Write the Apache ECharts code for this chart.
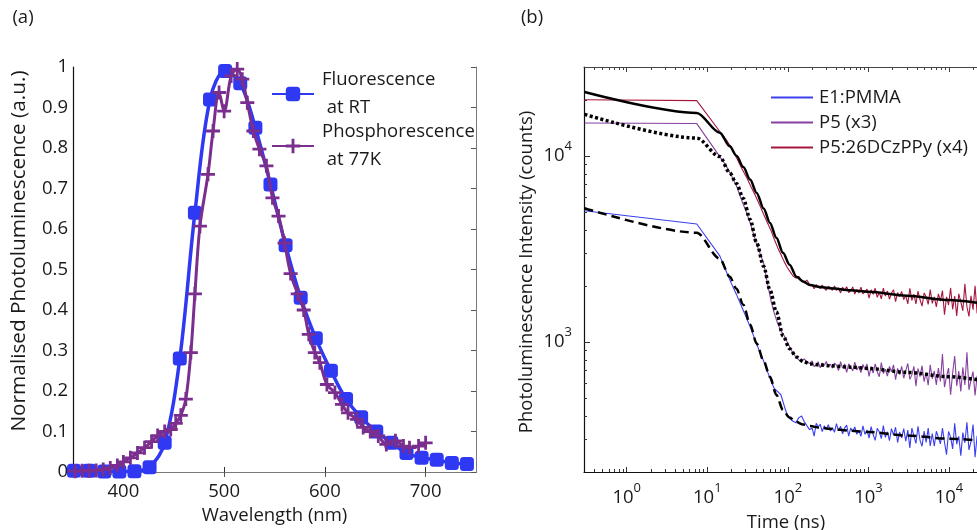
<!DOCTYPE html>
<html>
<head>
<meta charset="utf-8">
<script src="https://cdn.jsdelivr.net/npm/echarts@6/dist/echarts.min.js"></script>
<style>
  html, body { margin: 0; padding: 0; background: #ffffff; }
  #chart { width: 977px; height: 530px; }
</style>
</head>
<body>
<div id="chart"></div>
<script>
// ---- Panel (a): steady-state spectra ----
const flWavelength = [351, 366, 381, 396, 411, 426, 441, 456, 471, 486, 501, 516, 531, 546, 561, 576, 591, 606, 621, 636, 651, 666, 681, 696, 711, 726, 741];
const flIntensity = [0.003, 0.003, 0.001, 0.001, 0.002, 0.012, 0.072, 0.28, 0.64, 0.92, 0.99, 0.96, 0.85, 0.71, 0.56, 0.43, 0.33, 0.25, 0.18, 0.135, 0.10, 0.072, 0.047, 0.035, 0.03, 0.022, 0.02];

const phWavelength = [352, 359, 366, 373, 380, 387, 394, 400, 407, 414, 421, 428, 434, 441, 447, 452, 457, 462, 467, 471, 476, 484, 489, 495, 500, 507, 513, 518, 523, 529, 535, 542, 548, 554, 560, 566, 573, 579, 584, 590, 595, 602, 610, 617, 623, 632, 638, 645, 653, 661, 670, 678, 684, 693, 700];
const phIntensity = [0.002, 0.003, 0.003, 0.004, 0.006, 0.010, 0.016, 0.025, 0.035, 0.047, 0.06, 0.075, 0.09, 0.10, 0.105, 0.12, 0.14, 0.18, 0.295, 0.44, 0.607, 0.735, 0.842, 0.937, 0.891, 0.978, 0.995, 0.97, 0.912, 0.842, 0.797, 0.756, 0.677, 0.632, 0.565, 0.49, 0.44, 0.40, 0.34, 0.295, 0.27, 0.216, 0.196, 0.167, 0.146, 0.13, 0.11, 0.10, 0.089, 0.068, 0.077, 0.064, 0.06, 0.064, 0.072];

const wavelengthTicks = [400, 500, 600, 700];

// ---- Panel (b): time-resolved decays ----
const timeNs = [0.3, 7.4, 14.3, 17, 20, 23, 27, 31, 35, 40, 45, 50, 56, 62, 68, 75, 82, 90, 98, 107, 116, 126, 137, 148, 160, 172, 186,
  200, 212, 225, 238, 252, 267, 283, 300, 318, 337, 357, 379, 401, 425, 451, 478, 506, 537, 569, 603,
  639, 677, 718, 761, 807, 855, 906, 961, 1018, 1080, 1144, 1213, 1286, 1363, 1445, 1531, 1623, 1720, 1824, 1933,
  2049, 2172, 2302, 2440, 2587, 2742, 2906, 3081, 3265, 3461, 3669, 3889, 4122, 4370, 4632, 4910, 5204, 5517, 5848, 6198,
  6570, 6965, 7382, 7825, 8295, 8792, 9320, 9879, 10470, 11100, 11770, 12470, 13220, 14010, 14850, 15740, 16690, 17690, 18750, 19880,
  21070, 22330];

const pmmaCounts = [5070, 4300, 2900, 2420, 2050, 1800, 1530, 1330, 1170, 1000, 880, 790, 690, 615, 560, 540, 520, 455, 405, 385, 375, 368, 392, 400, 372, 355, 338,
  344, 312, 365, 349, 361, 330, 354, 340, 359, 332, 346, 327, 364, 333, 352, 321, 344, 357, 312, 345,
  330, 349, 319, 334, 311, 354, 319, 336, 304, 351, 318, 296, 343, 329, 302, 355, 307, 329, 295, 342,
  316, 348, 288, 328, 305, 342, 293, 336, 269, 344, 312, 285, 352, 296, 275, 332, 288, 344, 276, 322,
  275, 331, 307, 283, 344, 289, 248, 330, 308, 266, 365, 282, 311, 245, 326, 287, 370, 263, 291, 360,
  240, 313];

const p5Counts = [15000, 14900, 9900, 8900, 7800, 6900, 5700, 4900, 4200, 3450, 3000, 2650, 2050, 1650, 1420, 1250, 1150, 1080, 1000, 930, 870, 830, 800, 785, 810, 780, 765,
  790, 738, 753, 782, 725, 769, 747, 785, 736, 759, 723, 770, 751, 701, 784, 723, 762, 685, 762, 735,
  698, 779, 707, 740, 685, 757, 711, 761, 653, 737, 679, 762, 692, 650, 774, 676, 713, 655, 738, 691,
  752, 627, 720, 668, 739, 638, 701, 766, 629, 665, 738, 579, 720, 651, 745, 611, 683, 585, 753, 634,
  698, 587, 723, 614, 860, 572, 652, 723, 520, 683, 840, 581, 697, 542, 731, 587, 880, 553, 623, 692,
  515, 658];

const p5HostCounts = [20000, 19800, 13500, 12300, 11000, 9800, 8500, 7600, 6800, 6050, 5400, 4850, 4350, 3950, 3550, 3200, 2950, 2700, 2520, 2380, 2260, 2200, 2250, 2120, 2080, 2150, 2040,
  2020, 1931, 2028, 1981, 1935, 2023, 1941, 1895, 1990, 1956, 1892, 1998, 1894, 1950, 1833, 1966, 1892, 1981, 1839, 1885,
  1974, 1808, 1913, 1832, 1970, 1814, 1859, 1921, 1718, 1905, 1804, 1942, 1735, 1849, 1702, 1946, 1764, 1876, 1696, 1831,
  1908, 1648, 1840, 1754, 1865, 1688, 1774, 1601, 1943, 1671, 1808, 1599, 1877, 1684, 1556, 1830, 1749, 1590, 1909, 1612,
  1746, 1543, 1813, 1657, 1887, 1400, 1748, 1578, 1950, 1497, 1765, 1380, 1811, 1643, 1469, 2050, 1545, 1370, 1770, 1491,
  2000, 1421];

// fitted decay curves
const fitTimeNs = [0.3, 7.4, 14.3, 19, 23, 28, 34, 41, 50, 60, 72, 87, 105, 128, 155, 188, 250, 333, 600, 1000, 3000, 10000, 22300];
const pmmaFit = [5230, 3860, 2800, 2240, 1930, 1584, 1241, 980, 790, 649, 520, 430, 392, 371, 360, 353, 346, 341, 333, 328, 314, 302, 296];
const p5Fit = [16700, 12450, 9900, 8100, 7100, 5900, 4550, 3400, 2550, 1900, 1450, 1080, 920, 830, 785, 762, 752, 745, 732, 720, 686, 650, 627];
const p5HostFit = [22000, 17000, 13300, 11250, 10000, 8700, 7450, 6320, 5210, 4360, 3630, 3010, 2600, 2240, 2110, 2020, 1975, 1945, 1895, 1858, 1770, 1679, 1622];

const timeDecades = [1, 10, 100, 1000, 10000];
const timeMinor = [0.4, 0.5, 0.6, 0.7, 0.8, 0.9, 2, 3, 4, 5, 6, 7, 8, 9, 20, 30, 40, 50, 60, 70, 80, 90,
  200, 300, 400, 500, 600, 700, 800, 900, 2000, 3000, 4000, 5000, 6000, 7000, 8000, 9000, 20000];
const countDecades = [1000, 10000];
const countMinor = [300, 400, 500, 600, 700, 800, 900, 2000, 3000, 4000, 5000, 6000, 7000, 8000, 9000, 20000];

// ---- styling ----
const FONT = '"Open Sans", sans-serif';
const FS = 18.5;      // tick labels, legends, axis titles
const FS_YA = 20.8;   // panel (a) vertical title
const TEXT = '#1a1a1a';
const BLUE = '#2f38f2';
const PURPLE = '#7a2e8e';
const PMMA_C = '#3b3ff0';
const P5_C = '#86409f';
const HOST_C = '#a5173d';
const CROSS = 'path://M4,0H6V4H10V6H6V10H4V6H0V4H4Z';

const zip = (xs, ys) => xs.map((x, i) => [x, ys[i]]);
const pow10Label = v => '{b|10}{s|' + Math.round(Math.log10(v)) + '}';
const powRich = {
  b: { fontSize: FS, fontFamily: FONT, color: TEXT, lineHeight: 32 },
  s: { fontSize: 13, fontFamily: FONT, color: TEXT, lineHeight: 14, verticalAlign: 'top' }
};
const textStyle = { color: TEXT, fontSize: FS, fontFamily: FONT };

const logX = (extra) => Object.assign({
  gridIndex: 1, type: 'log', logBase: 10, min: 0.295, max: 22260,
  splitLine: { show: false }, axisLabel: { show: false },
  axisLine: { show: false }
}, extra);
const logY = (extra) => Object.assign({
  gridIndex: 1, type: 'log', logBase: 10, min: 200, max: 30000,
  splitLine: { show: false }, axisLabel: { show: false },
  axisLine: { show: false }
}, extra);

const chart = echarts.init(document.getElementById('chart'));

chart.setOption({
  animation: false,
  backgroundColor: '#ffffff',
  grid: [
    { left: 73, top: 67, width: 403, height: 405, containLabel: false, outerBoundsMode: 'none' },
    { left: 584, top: 67, width: 393, height: 405, containLabel: false, outerBoundsMode: 'none' }
  ],
  xAxis: [
    {
      gridIndex: 0, type: 'value', min: 350, max: 750, position: 'bottom',
      axisLine: { lineStyle: { color: '#111', width: 1.2 } },
      axisTick: { inside: true, length: 5, customValues: wavelengthTicks, lineStyle: { color: '#333' } },
      axisLabel: Object.assign({ customValues: wavelengthTicks, margin: 10 }, textStyle),
      splitLine: { show: false },
      name: 'Wavelength (nm)', nameLocation: 'middle', nameGap: 33,
      nameTextStyle: textStyle
    },
    {
      gridIndex: 0, type: 'value', min: 350, max: 750, position: 'top',
      axisLine: { lineStyle: { color: '#7a7a7a', width: 1 } },
      axisTick: { inside: true, length: 5, customValues: wavelengthTicks, lineStyle: { color: '#555' } },
      axisLabel: { show: false }, splitLine: { show: false }
    },
    logX({
      position: 'bottom',
      axisLine: { show: true, lineStyle: { color: '#111', width: 1.2 } },
      axisTick: { inside: true, length: 5, customValues: timeDecades, lineStyle: { color: '#333' } },
      axisLabel: { show: true, customValues: timeDecades, formatter: pow10Label, rich: powRich, margin: 10 },
      name: 'Time (ns)', nameLocation: 'middle', nameGap: 41,
      nameTextStyle: Object.assign({ padding: [0, 0, 0, 11] }, textStyle)
    }),
    logX({ position: 'bottom', axisTick: { inside: true, length: 3, customValues: timeMinor, lineStyle: { color: '#333' } } }),
    logX({
      position: 'top',
      axisLine: { show: true, lineStyle: { color: '#444', width: 1 } },
      axisTick: { inside: true, length: 5, customValues: timeDecades, lineStyle: { color: '#444' } }
    }),
    logX({ position: 'top', axisTick: { inside: true, length: 3, customValues: timeMinor, lineStyle: { color: '#444' } } })
  ],
  yAxis: [
    {
      gridIndex: 0, type: 'value', min: 0, max: 1, interval: 0.1, position: 'left',
      axisLine: { lineStyle: { color: '#111', width: 1.2 } },
      axisTick: { show: false },
      axisLabel: Object.assign({ margin: 5 }, textStyle),
      splitLine: { show: false }
    },
    {
      gridIndex: 0, type: 'value', min: 0, max: 1, interval: 0.1, position: 'right',
      axisLine: { lineStyle: { color: '#7a7a7a', width: 1 } },
      axisTick: { inside: true, length: 5, lineStyle: { color: '#555' } },
      axisLabel: { show: false }, splitLine: { show: false }
    },
    logY({
      position: 'left',
      axisLine: { show: true, lineStyle: { color: '#111', width: 1.2 } },
      axisTick: { inside: true, length: 6, customValues: countDecades, lineStyle: { color: '#333' } },
      axisLabel: { show: true, customValues: countDecades, formatter: pow10Label, rich: powRich, margin: 12 }
    }),
    logY({ position: 'left', axisTick: { inside: true, length: 3, customValues: countMinor, lineStyle: { color: '#333' } } })
  ],
  legend: [
    {
      data: ['Fluorescence\n at RT', 'Phosphorescence\n at 77K'],
      orient: 'vertical', left: 271, top: 66, padding: 0,
      itemWidth: 42, itemHeight: 18, itemGap: -4,
      textStyle: Object.assign({ lineHeight: 28, padding: [0, 0, 0, 3] }, textStyle)
    },
    {
      data: ['E1:PMMA', 'P5 (x3)', 'P5:26DCzPPy (x4)'],
      orient: 'vertical', left: 771, top: 88, padding: 0, icon: 'rect',
      itemWidth: 42, itemHeight: 2, itemGap: 6,
      textStyle: Object.assign({ lineHeight: 18, padding: [0, 0, 0, 1] }, textStyle)
    }
  ],
  graphic: [
    { type: 'text', x: 23, y: 18, style: { text: '(a)', fill: TEXT, align: 'center', verticalAlign: 'middle', fontSize: FS, fontFamily: FONT } },
    { type: 'text', x: 532, y: 18, style: { text: '(b)', fill: TEXT, align: 'center', verticalAlign: 'middle', fontSize: FS, fontFamily: FONT } },
    { type: 'text', x: 19, y: 251, rotation: Math.PI / 2, style: { text: 'Normalised Photoluminescence (a.u.)', fontSize: FS_YA, fontFamily: FONT, fill: TEXT, align: 'center', verticalAlign: 'middle' } },
    { type: 'text', x: 527, y: 272, rotation: Math.PI / 2, style: { text: 'Photoluminescence Intensity (counts)', fontSize: FS, fontFamily: FONT, fill: TEXT, align: 'center', verticalAlign: 'middle' } }
  ],
  series: [
    {
      name: 'Fluorescence\n at RT', type: 'line', xAxisIndex: 0, yAxisIndex: 0,
      data: zip(flWavelength, flIntensity), smooth: 0.35,
      symbol: 'roundRect', symbolSize: 14,
      lineStyle: { color: BLUE, width: 3.5 }, itemStyle: { color: BLUE }, z: 3
    },
    {
      name: 'Phosphorescence\n at 77K', type: 'line', xAxisIndex: 0, yAxisIndex: 0,
      data: zip(phWavelength, phIntensity), smooth: 0.35,
      symbol: CROSS, symbolSize: 14,
      lineStyle: { color: PURPLE, width: 3 }, itemStyle: { color: PURPLE }, z: 4
    },
    {
      name: 'E1:PMMA', type: 'line', xAxisIndex: 2, yAxisIndex: 2,
      data: zip(timeNs, pmmaCounts), showSymbol: false, symbol: 'none',
      lineStyle: { color: PMMA_C, width: 1.1 }, itemStyle: { color: PMMA_C }
    },
    {
      name: 'P5 (x3)', type: 'line', xAxisIndex: 2, yAxisIndex: 2,
      data: zip(timeNs, p5Counts), showSymbol: false, symbol: 'none',
      lineStyle: { color: P5_C, width: 1.1 }, itemStyle: { color: P5_C }
    },
    {
      name: 'P5:26DCzPPy (x4)', type: 'line', xAxisIndex: 2, yAxisIndex: 2,
      data: zip(timeNs, p5HostCounts), showSymbol: false, symbol: 'none',
      lineStyle: { color: HOST_C, width: 1.1 }, itemStyle: { color: HOST_C }
    },
    {
      name: 'E1:PMMA fit', type: 'line', xAxisIndex: 2, yAxisIndex: 2,
      data: zip(fitTimeNs, pmmaFit), symbol: 'none', smooth: 0.3, smoothMonotone: 'x',
      lineStyle: { color: '#000', width: 2.5, type: [9, 5] }, z: 5
    },
    {
      name: 'P5 fit', type: 'line', xAxisIndex: 2, yAxisIndex: 2,
      data: zip(fitTimeNs, p5Fit), symbol: 'none', smooth: 0.3, smoothMonotone: 'x',
      lineStyle: { color: '#000', width: 3.5, type: [3, 2.5] }, z: 5
    },
    {
      name: 'P5:26DCzPPy fit', type: 'line', xAxisIndex: 2, yAxisIndex: 2,
      data: zip(fitTimeNs, p5HostFit), symbol: 'none', smooth: 0.3, smoothMonotone: 'x',
      lineStyle: { color: '#000', width: 2.5 }, z: 5
    }
  ]
});
</script>
</body>
</html>
